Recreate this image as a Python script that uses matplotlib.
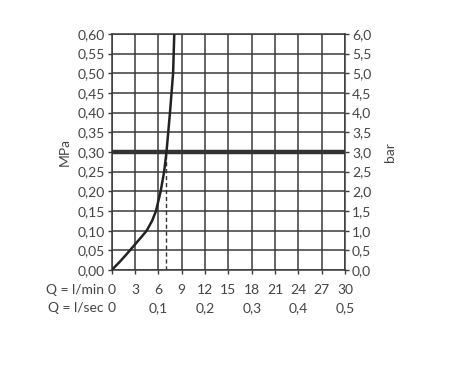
import matplotlib
matplotlib.use('Agg')
import matplotlib.pyplot as plt

plt.rcParams['font.family'] = ['Lato', 'DejaVu Sans']

# Kennlinie: Durchfluss (l/min) gegen Druck (MPa)
flow_lmin = [0, 1, 2, 3, 4, 4.5, 5.2, 5.7, 6.3, 6.75, 7.05, 7.5, 7.9, 8.05]
pressure_mpa = [0, 0.02, 0.042, 0.065, 0.088, 0.10, 0.125, 0.15, 0.20, 0.25, 0.30, 0.40, 0.50, 0.60]

ref_pressure = 0.30
ref_flow = 7.05

x_ticks = [0, 3, 6, 9, 12, 15, 18, 21, 24, 27, 30]
y_ticks = [0.00, 0.05, 0.10, 0.15, 0.20, 0.25, 0.30, 0.35, 0.40, 0.45, 0.50, 0.55, 0.60]
bar_ticks = [0.0, 0.5, 1.0, 1.5, 2.0, 2.5, 3.0, 3.5, 4.0, 4.5, 5.0, 5.5, 6.0]
sec_pos = [0, 6, 12, 18, 24, 30]
sec_labels = ['0', '0,1', '0,2', '0,3', '0,4', '0,5']

txt = '#444444'
grid_c = '#3a3a3a'
fs = 10

fig = plt.figure(figsize=(4.5, 3.72), dpi=100)
ax = fig.add_axes([0.248, 0.274, 0.519, 0.635])

ax.set_xlim(0, 30)
ax.set_ylim(0, 0.6)
ax.set_xticks(x_ticks)
ax.set_yticks(y_ticks)
ax.set_xticklabels([str(v) for v in x_ticks])
ax.set_yticklabels([f'{v:.2f}'.replace('.', ',') for v in y_ticks])
ax.grid(True, color=grid_c, linewidth=1.1)
ax.set_axisbelow(True)
for s in ax.spines.values():
    s.set_color(grid_c)
    s.set_linewidth(1.1)
ax.tick_params(colors=grid_c, labelcolor=txt, labelsize=fs, length=3, width=1, pad=2)
ax.tick_params(axis='x', pad=7)

# Kurve und Referenzlinien
ax.axhline(ref_pressure, color='#333333', linewidth=3.2, zorder=3)
ax.plot([ref_flow, ref_flow], [0, ref_pressure], color='#333333', linewidth=1, linestyle=(0, (3, 2)), zorder=3)
ax.plot(flow_lmin, pressure_mpa, color='#222222', linewidth=1.8, zorder=4)

ax.set_ylabel('MPa', color=txt, fontsize=fs, labelpad=5)

# rechte Achse in bar
ax2 = ax.twinx()
ax2.set_ylim(0, 6)
ax2.set_yticks(bar_ticks)
ax2.set_yticklabels([f'{v:.1f}'.replace('.', ',') for v in bar_ticks])
ax2.tick_params(colors=grid_c, labelcolor=txt, labelsize=fs, length=3, width=1, pad=2)
for s in ax2.spines.values():
    s.set_visible(False)
ax2.set_ylabel('bar', color=txt, fontsize=fs, rotation=90, labelpad=9)

# zweite Zeile l/sec
for p, lab in zip(sec_pos, sec_labels):
    ax.text(p, -0.16, lab, ha='center', va='center', fontsize=fs, color=txt,
            transform=ax.get_xaxis_transform())
fig.text(104 / 450, 1 - 290 / 372, 'Q = l/min', ha='right', va='center', fontsize=fs, color=txt)
fig.text(104 / 450, 1 - 308 / 372, 'Q = l/sec', ha='right', va='center', fontsize=fs, color=txt)

fig.savefig('out.png', dpi=100)
